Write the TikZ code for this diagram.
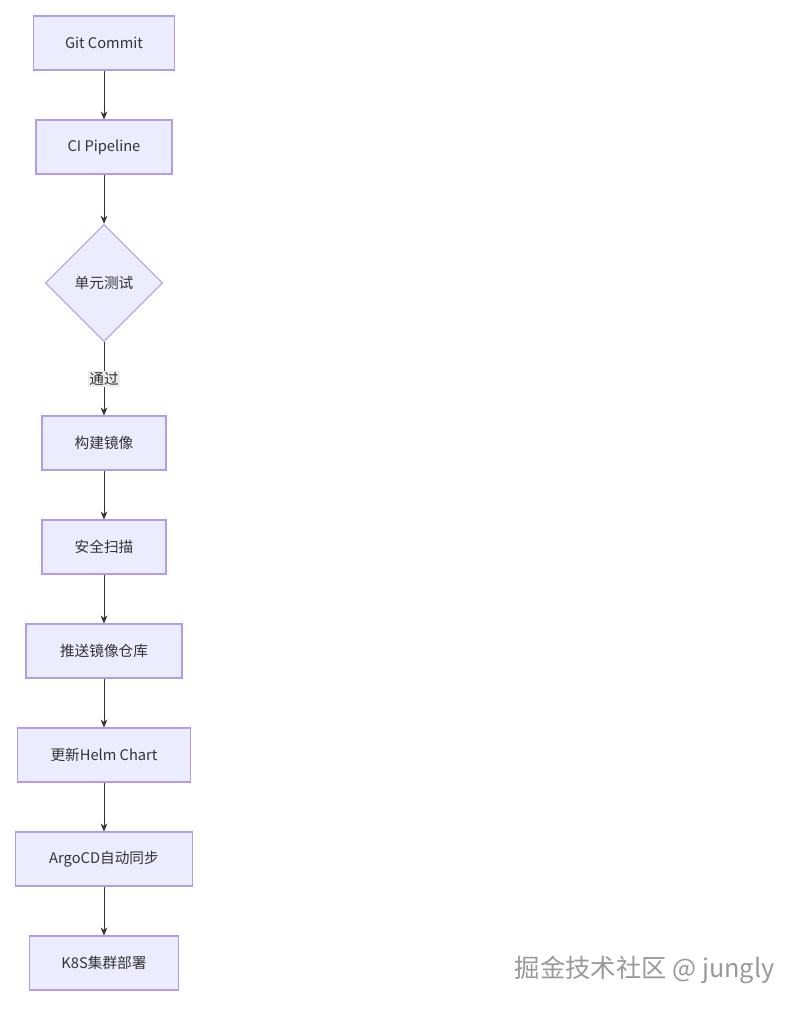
\documentclass[tikz,border=0pt]{standalone}
\usepackage{fontspec}
\setmainfont{Noto Sans CJK SC}
\usetikzlibrary{arrows.meta,shapes.geometric,positioning}
\definecolor{boxfill}{HTML}{ECECFF}
\definecolor{boxline}{HTML}{B39DEB}
\definecolor{arrowc}{HTML}{333333}
\begin{document}
\begin{tikzpicture}
	[x=0.75pt,y=-0.75pt,->,>={Stealth[length=6pt,width=5pt]},
		box/.style={rectangle,draw=boxline,fill=boxfill,line width=0.8pt,minimum height=40.5pt,font=\fontsize{11}{13}\selectfont,text=arrowc},
		decide/.style={diamond,draw=boxline,fill=boxfill,line width=0.8pt,minimum width=88pt,minimum height=88pt,inner sep=0pt,font=\fontsize{11}{13}\selectfont,text=arrowc},
		flow/.style={draw=arrowc,line width=0.7pt}]
	\useasboundingbox (0,0) rectangle (800,1013);

	\node[box,minimum width=106pt] (commit) at (104,43)  {Git Commit};
	\node[box,minimum width=102pt] (ci)     at (104,147) {CI Pipeline};
	\node[decide]                  (test)   at (104,283) {单元测试};
	\node[box,minimum width=93pt]  (build)  at (104,443) {构建镜像};
	\node[box,minimum width=93pt]  (scan)   at (104,547) {安全扫描};
	\node[box,minimum width=117pt] (push)   at (104,651) {推送镜像仓库};
	\node[box,minimum width=130pt] (helm)   at (104,755) {更新Helm Chart};
	\node[box,minimum width=133pt] (argo)   at (104,859) {ArgoCD自动同步};
	\node[box,minimum width=112pt] (k8s)    at (104,963) {K8S集群部署};

	\draw[flow] (commit) -- (ci);
	\draw[flow] (ci) -- (test);
	\draw[flow] (test) -- node[fill=gray!15,inner sep=1pt,font=\fontsize{11}{13}\selectfont,text=arrowc] {通过} (build);
	\draw[flow] (build) -- (scan);
	\draw[flow] (scan) -- (push);
	\draw[flow] (push) -- (helm);
	\draw[flow] (helm) -- (argo);
	\draw[flow] (argo) -- (k8s);

	% watermark
	\node[text=gray!80,font=\fontsize{19}{21}\selectfont,anchor=west] (mark) at (510,970) {掘金技术社区 @ jungly};
\end{tikzpicture}
\end{document}
